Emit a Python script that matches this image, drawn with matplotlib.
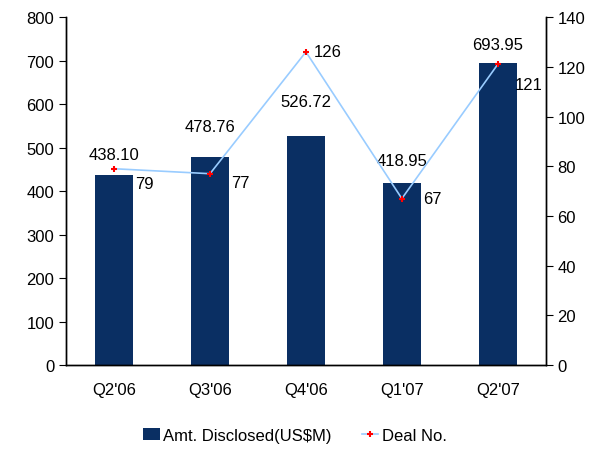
import matplotlib.pyplot as plt
import numpy as np

# Daten
quarters = ["Q2'06", "Q3'06", "Q4'06", "Q1'07", "Q2'07"]
amt_disclosed = [438.10, 478.76, 526.72, 418.95, 693.95]
deal_no = [79, 77, 126, 67, 121]

# Label-Versatz (wie im Original, Excel schiebt einige Labels weg)
bar_lbl_dy = [46, 69, 80, 51, 44]
line_lbl_dx = [0.22, 0.22, 0.08, 0.22, 0.18]
line_lbl_dy = [-6, -3.5, 0, 0, -8]

plt.rcParams['font.family'] = ['Liberation Sans', 'DejaVu Sans']

fig = plt.figure(figsize=(5.9, 4.52), dpi=100)
ax = fig.add_axes([0.112, 0.19, 0.813, 0.77])
ax2 = ax.twinx()

x = np.arange(len(quarters))
bars = ax.bar(x, amt_disclosed, width=0.4, color='#0A2F63', label='Amt. Disclosed(US$M)', zorder=2)
line, = ax2.plot(x, deal_no, color='#99CCFF', lw=1.2, marker='+', markersize=5,
                 markeredgecolor='red', markeredgewidth=1.5, label='Deal No.', zorder=3)

ax.set_xlim(-0.5, len(quarters) - 0.5)
ax.set_ylim(0, 800)
ax.set_yticks(range(0, 801, 100))
ax2.set_ylim(0, 140)
ax2.set_yticks(range(0, 141, 20))

for xi, v, dy in zip(x, amt_disclosed, bar_lbl_dy):
    ax.text(xi, v + dy, f'{v:.2f}', ha='center', va='center', fontsize=12)
for xi, v, dx, dy in zip(x, deal_no, line_lbl_dx, line_lbl_dy):
    ax2.text(xi + dx, v + dy, str(v), ha='left', va='center', fontsize=12)

ax.set_xticks(x)
ax.set_xticklabels(quarters, fontsize=12)
ax.tick_params(axis='x', length=0, pad=12)
ax.tick_params(axis='y', labelsize=12, direction='out', length=5)
ax2.tick_params(axis='y', labelsize=12, direction='out', length=5)

for a in (ax, ax2):
    a.spines['top'].set_visible(False)
    for s in ('left', 'right', 'bottom'):
        a.spines[s].set_linewidth(1.0)

fig.legend([bars, line], ['Amt. Disclosed(US$M)', 'Deal No.'], loc='lower center',
           bbox_to_anchor=(0.5, -0.015), ncol=2, frameon=False, fontsize=12,
           handlelength=1.0, handletextpad=0.2, columnspacing=1.8)

fig.savefig('out.png', dpi=100)
